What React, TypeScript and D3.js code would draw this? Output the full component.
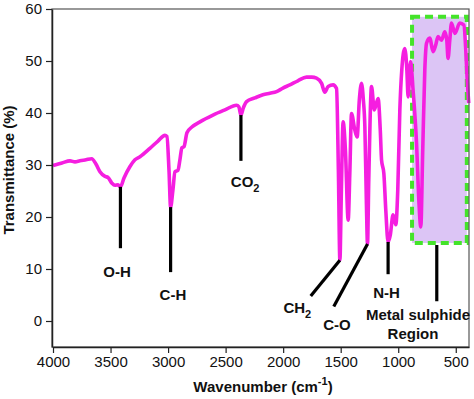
import React, { useEffect, useRef } from 'react';
import * as d3 from 'd3';

// FTIR spectrum
const wavenumbers = [
  4000, 3922, 3852, 3809, 3766, 3713, 3664, 3627, 3592, 3548, 3522, 3488, 3462, 3435, 3414, 3383,
  3331, 3288, 3244, 3158, 3088, 3027, 3010, 2992, 2978, 2958, 2940, 2914, 2897, 2880, 2862, 2836,
  2793, 2723, 2610, 2506, 2405, 2385, 2367, 2346, 2318, 2246, 2176, 2115, 2057, 2002, 1942, 1872,
  1797, 1751, 1710, 1666, 1638, 1609, 1566, 1536, 1520, 1507, 1494, 1479, 1459, 1435, 1420, 1406,
  1377, 1357, 1338, 1319, 1303, 1290, 1277, 1267, 1256, 1232, 1208, 1175, 1156, 1145, 1125, 1108,
  1088, 1069, 1045, 1021, 1004, 986, 969, 943, 925, 914, 893, 871, 841, 821, 804, 787,
  769, 754, 726, 697, 674, 654, 624, 595, 578, 567, 552, 537, 508, 465, 430, 413,
  402, 387,
];
const transmittance = [
  29.9, 30.4, 30.8, 30.6, 30.8, 31.0, 31.2, 30.2, 28.7, 27.8, 27.6, 26.5, 26.1, 26.2, 25.8, 27.5,
  29.7, 31.0, 31.6, 33.2, 34.6, 35.7, 35.5, 29.0, 21.9, 25.2, 28.7, 29.0, 31.0, 33.3, 33.5, 36.2,
  37.3, 38.3, 39.6, 40.6, 41.5, 41.2, 39.6, 41.0, 42.2, 42.9, 43.5, 43.8, 44.1, 44.8, 45.4, 46.2,
  46.9, 46.9, 46.7, 45.7, 44.0, 45.1, 45.4, 44.7, 29.0, 11.7, 25.2, 38.3, 32.9, 19.4, 29.0, 39.9,
  36.7, 35.4, 42.5, 45.7, 42.5, 37.4, 23.3, 14.8, 27.1, 45.1, 40.6, 42.8, 36.7, 31.0, 28.4, 21.3,
  15.2, 16.5, 20.4, 18.5, 25.2, 40.6, 48.3, 52.4, 48.3, 43.1, 49.9, 44.4, 34.2, 23.3, 18.1, 32.9,
  48.3, 53.4, 54.4, 51.8, 53.1, 54.7, 54.0, 55.6, 54.0, 50.5, 54.0, 57.3, 55.3, 57.3, 56.9, 52.1,
  47.0, 41.9,
];

const xTicks = [4000, 3500, 3000, 2500, 2000, 1500, 1000, 500];
const yTicks = [0, 10, 20, 30, 40, 50, 60];

// vertical markers: peak position, top and bottom of the stick (in %T)
const verticalMarks = [
  { label: 'O-H', x: 3414, y1: 25.8, y2: 14.0, lx: 3444, ly: 8.5 },
  { label: 'C-H', x: 2978, y1: 21.9, y2: 9.4, lx: 2958, ly: 4.0 },
  { label: 'CO', sub: '2', x: 2367, y1: 39.6, y2: 30.8, lx: 2330, ly: 25.8 },
  { label: 'N-H', x: 1088, y1: 15.2, y2: 9.0, lx: 1102, ly: 4.4 },
];
// diagonal markers
const diagonalMarks = [
  { label: 'CH', sub: '2', x1: 1507, y1: 11.7, x2: 1760, y2: 4.8, lx: 1877, ly: 1.5 },
  { label: 'C-O', x1: 1267, y1: 14.8, x2: 1560, y2: 2.8, lx: 1533, ly: -1.7 },
];

const region = { x0: 880, x1: 404, y0: 15, y1: 58.5 };
const regionStick = { x: 665, y1: 15, y2: 3.8 };

const App: React.FC = () => {
  const svgRef = useRef<SVGSVGElement>(null);

  useEffect(() => {
    if (!svgRef.current) return;
    const svg = d3.select(svgRef.current);
    svg.selectAll('*').remove();

    const left = 52, right = 469, top = 9, bottom = 347;
    const font = 'Liberation Sans, Arial, sans-serif';

    const xScale = d3.scaleLinear().domain([4000, 385]).range([53, 469]);
    const yScale = d3.scaleLinear().domain([-5, 60]).range([bottom, top]);

    // metal sulphide region box
    svg.append('rect')
      .attr('x', xScale(region.x0))
      .attr('y', yScale(region.y1))
      .attr('width', xScale(region.x1) - xScale(region.x0))
      .attr('height', yScale(region.y0) - yScale(region.y1))
      .attr('fill', '#dcc5f5')
      .attr('stroke', '#44e42a')
      .attr('stroke-width', 4)
      .attr('stroke-dasharray', '8,5');

    // spectrum
    const data = wavenumbers.map((w, i) => [w, transmittance[i]] as [number, number]);
    const line = d3.line<[number, number]>()
      .x(d => xScale(d[0]))
      .y(d => yScale(d[1]))
      .curve(d3.curveMonotoneX);

    svg.append('path')
      .datum(data)
      .attr('fill', 'none')
      .attr('stroke', '#f51ee0')
      .attr('stroke-width', 3.6)
      .attr('stroke-linejoin', 'round')
      .attr('d', line);

    // frame
    svg.append('rect')
      .attr('x', left).attr('y', top)
      .attr('width', right - left).attr('height', bottom - top)
      .attr('fill', 'none').attr('stroke', '#555').attr('stroke-width', 1.2);

    // axes
    const xAxis = svg.append('g')
      .attr('transform', `translate(0,${bottom})`)
      .call(d3.axisBottom(xScale).tickValues(xTicks).tickSize(6).tickSizeOuter(0).tickFormat(d3.format('d')));
    const yAxis = svg.append('g')
      .attr('transform', `translate(${left},0)`)
      .call(d3.axisLeft(yScale).tickValues(yTicks).tickSize(6).tickSizeOuter(0).tickFormat(d3.format('d')));

    [xAxis, yAxis].forEach(ax => {
      ax.select('.domain').attr('stroke', '#222').attr('stroke-width', 1.5);
      ax.selectAll('.tick line').attr('stroke', '#222').attr('stroke-width', 1.2);
      ax.selectAll('.tick text')
        .attr('fill', '#111')
        .style('font-family', font)
        .style('font-size', '15px');
    });
    xAxis.selectAll('.tick text').attr('y', 9);
    yAxis.selectAll('.tick text').attr('x', -10);

    // axis titles
    const xt = svg.append('text')
      .attr('x', 263).attr('y', 392)
      .attr('text-anchor', 'middle')
      .style('font-family', font).style('font-size', '15px').style('font-weight', 'bold')
      .attr('fill', '#111');
    xt.append('tspan').text('Wavenumber (cm');
    xt.append('tspan').attr('dy', -7).style('font-size', '11px').text('-1');
    xt.append('tspan').attr('dy', 7).text(')');

    svg.append('text')
      .attr('transform', `translate(14,${170}) rotate(-90)`)
      .attr('text-anchor', 'middle')
      .style('font-family', font).style('font-size', '15px').style('font-weight', 'bold')
      .attr('fill', '#111')
      .text('Transmittance (%)');

    // annotations
    const addLabel = (label: string, sub: string | undefined, x: number, y: number) => {
      const t = svg.append('text')
        .attr('x', x).attr('y', y)
        .attr('text-anchor', 'middle')
        .style('font-family', font).style('font-size', '15px').style('font-weight', 'bold')
        .attr('fill', '#111');
      t.append('tspan').text(label);
      if (sub) t.append('tspan').attr('dy', 5).style('font-size', '11px').text(sub);
    };

    verticalMarks.forEach(m => {
      svg.append('line')
        .attr('x1', xScale(m.x)).attr('x2', xScale(m.x))
        .attr('y1', yScale(m.y1)).attr('y2', yScale(m.y2))
        .attr('stroke', '#000').attr('stroke-width', 3.2);
      addLabel(m.label, m.sub, xScale(m.lx), yScale(m.ly));
    });

    diagonalMarks.forEach(m => {
      svg.append('line')
        .attr('x1', xScale(m.x1)).attr('x2', xScale(m.x2))
        .attr('y1', yScale(m.y1)).attr('y2', yScale(m.y2))
        .attr('stroke', '#000').attr('stroke-width', 3.2);
      addLabel(m.label, m.sub, xScale(m.lx), yScale(m.ly));
    });

    svg.append('line')
      .attr('x1', xScale(regionStick.x)).attr('x2', xScale(regionStick.x))
      .attr('y1', yScale(regionStick.y1) + 2).attr('y2', yScale(regionStick.y2))
      .attr('stroke', '#000').attr('stroke-width', 3.2);
    addLabel('Metal sulphide', undefined, 418, 320);
    addLabel('Region', undefined, 413, 339);
  }, []);

  return (
    <div style={{ position: 'fixed', left: 0, top: 0, background: '#fff' }}>
      <svg ref={svgRef} width={474} height={399} style={{ display: 'block' }} />
    </div>
  );
};

export default App;
